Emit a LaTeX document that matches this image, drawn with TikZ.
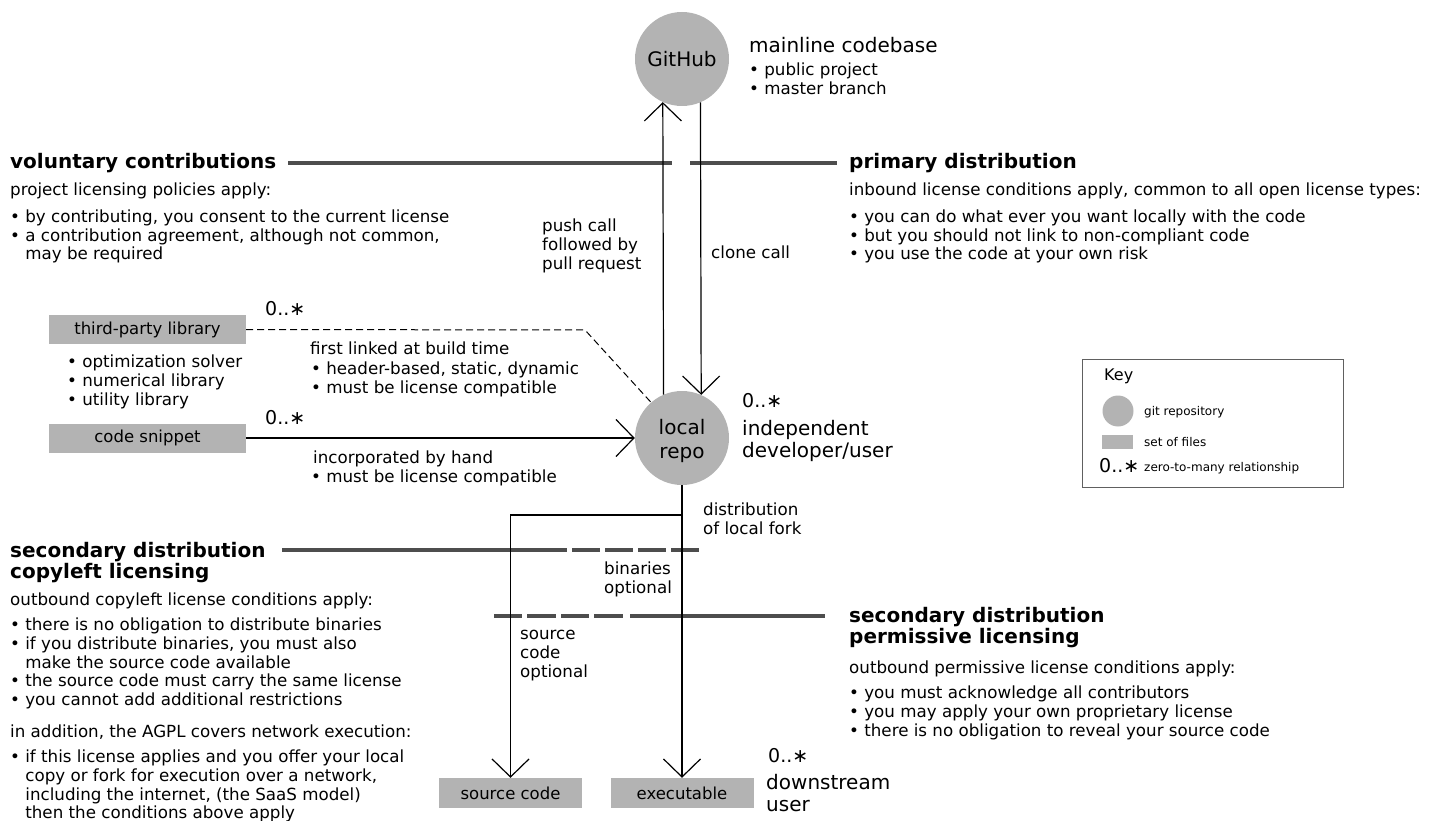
\documentclass[tikz,border=0pt]{standalone}
\usepackage{fontspec}
\setmainfont{DejaVu Sans}
\usetikzlibrary{arrows.meta}
\definecolor{fillgray}{HTML}{B3B3B3}
\definecolor{sepgray}{HTML}{4D4D4D}
\definecolor{keygray}{HTML}{606060}
\newcommand\fbody{\fontsize{16.7}{18.6}\selectfont}
\newcommand\fhead{\bfseries\fontsize{20}{20.8}\selectfont}
\newcommand\fbig{\fontsize{20}{22.8}\selectfont}
\newcommand\fmult{\fontsize{19}{21}\selectfont}
\newcommand\ffiles{\fontsize{16.5}{18}\selectfont}
\newcommand\fkey{\fontsize{12}{14}\selectfont}
\newcommand\blk[1]{\begin{tabular}[t]{@{}l@{}}#1\end{tabular}}
\newcommand\ind{\hphantom{•\ }}
\tikzset{
  repo/.style={circle, fill=fillgray, minimum size=94pt, inner sep=0pt, font=\fbig, align=center},
  files/.style={rectangle, fill=fillgray, minimum width=197pt, minimum height=29pt, inner sep=0pt, font=\ffiles},
  smallfiles/.style={files, minimum width=143pt, minimum height=30pt},
  txt/.style={anchor=base west, inner sep=0pt, font=\fbody, yshift=-1.8pt},
  head/.style={anchor=base west, inner sep=0pt, font=\fhead},
  big/.style={anchor=base west, inner sep=0pt, font=\fbig},
  mult/.style={anchor=base west, inner sep=0pt, font=\fmult},
  keytxt/.style={anchor=base west, inner sep=0pt, font=\fkey},
  arr/.style={line width=1.2pt, -{Straight Barb[length=18pt, width=37pt]}},
  link/.style={line width=1pt, dash pattern=on 7pt off 4pt},
  sep/.style={line width=4.5pt, draw=sepgray},
}
\begin{document}
\begin{tikzpicture}[x=1pt, y=-1pt]
\useasboundingbox (0,0) rectangle (1440,821);

% separators
\draw[sep] (288,163) -- (672,163);
\draw[sep] (690,163) -- (837,163);
\draw[sep, dash pattern=on 285pt off 5pt on 28pt off 5pt on 28pt off 5pt on 28pt off 5pt on 28pt off 5pt] (282,550) -- (701,550);
\draw[sep, dash pattern=on 28pt off 5pt on 29pt off 5pt on 28pt off 5pt on 29pt off 7pt on 300pt off 5pt] (494,616) -- (825,616);

% repositories
\node[repo] (gh) at (682,59) {GitHub};
\node[repo] (local) at (682,438) {};
\node[font=\fbig, align=center, inner sep=0pt] (locall) at (682,441) {local\\[0.3pt]repo};

% files
\node[files] (tp) at (147.5,329.5) {third-party library};
\node[files] (cs) at (147.5,438) {code snippet};
\node[smallfiles] (sc) at (510.5,793) {source code};
\node[smallfiles] (exe) at (682,793) {executable};

% connectors
\draw[arr] (local.113.8) -- (gh.246.2);
\draw[arr] (gh.293.8) -- (local.66.2);
\coordinate (bend) at (585,330);
\draw[link] (tp.east) -- (bend) -- (local.131.8);
\draw[arr] (cs.east) -- (local.west);
\draw[arr] (local.south) -- (exe.north);
\coordinate (fork) at (682,515);
\draw[arr] (fork) -| (sc.north);

% GitHub labels
\node[big] (mlc) at (749,53) {mainline codebase};
\node[txt] (mlb) at (749,74) {\blk{• public project\\• master branch}};

% voluntary contributions
\node[head] (vc) at (10,169) {voluntary contributions};
\node[txt] (vct) at (10,194) {project licensing policies apply:};
\node[txt] (vcb) at (10,221) {\blk{• by contributing, you consent to the current license\\• a contribution agreement, although not common,\\\ind may be required}};

% primary distribution
\node[head] (pd) at (849,169) {primary distribution};
\node[txt] (pdt) at (849,194) {inbound license conditions apply, common to all open license types:};
\node[txt] (pdb) at (849,221) {\blk{• you can do what ever you want locally with the code\\• but you should not link to non-compliant code\\• you use the code at your own risk}};

% push / clone labels
\node[txt] (pushl) at (542,230) {\blk{push call\\followed by\\pull request}};
\node[txt] (clonel) at (711,257) {clone call};

% third party and snippet labels
\node[mult] (m1) at (265,315) {0..∗};
\node[mult] (m2) at (265,424) {0..∗};
\node[txt] (tpb) at (67,366) {\blk{• optimization solver\\• numerical library\\• utility library}};
\node[txt] (fl) at (310,353) {first linked at build time};
\node[txt] (flb) at (311,373) {\blk{• header-based, static, dynamic\\• must be license compatible}};
\node[txt] (ih) at (313,462) {incorporated by hand};
\node[txt] (ihb) at (311,481) {• must be license compatible};

% local repo labels
\node[mult] (m3) at (742,407) {0..∗};
\node[big] (dev) at (742,435) {\blk{independent\\developer/user}};
\node[txt] (dlf) at (703,514) {\blk{distribution\\of local fork}};
\node[txt] (bo) at (604,573) {\blk{binaries\\optional}};
\node[txt] (sco) at (520,638) {\blk{source\\code\\optional}};

% copyleft
\node[head] (cl) at (10,557) {\blk{secondary distribution\\copyleft licensing}};
\node[txt] (clt) at (10,604) {outbound copyleft license conditions apply:};
\node[txt] (clb) at (10,629) {\blk{• there is no obligation to distribute binaries\\• if you distribute binaries, you must also\\\ind make the source code available\\• the source code must carry the same license\\• you cannot add additional restrictions}};
\node[txt] (agt) at (10,736) {in addition, the AGPL covers network execution:};
\node[txt] (agb) at (10,761) {\blk{• if this license applies and you offer your local\\\ind copy or fork for execution over a network,\\\ind including the internet, (the SaaS model)\\\ind then the conditions above apply}};

% permissive
\node[head] (pl) at (849,622) {\blk{secondary distribution\\permissive licensing}};
\node[txt] (plt) at (849,672) {outbound permissive license conditions apply:};
\node[txt] (plb) at (849,697) {\blk{• you must acknowledge all contributors\\• you may apply your own proprietary license\\• there is no obligation to reveal your source code}};

% downstream
\node[mult] (m4) at (768,762) {0..∗};
\node[big] (ds) at (766,789) {\blk{downstream\\user}};

% key
\node[draw=keygray, line width=1pt, minimum width=261pt, minimum height=128pt, inner sep=0pt, anchor=north west] (key) at (1082,359) {};
\node[anchor=base west, inner sep=0pt, font=\fontsize{16}{18}\selectfont] (keyt) at (1104,380) {Key};
\node[circle, fill=fillgray, minimum size=31pt, inner sep=0pt] (kc) at (1118,411) {};
\node[rectangle, fill=fillgray, minimum width=31pt, minimum height=14pt, inner sep=0pt] (kr) at (1117.5,442) {};
\node[keytxt] (kct) at (1144,415) {git repository};
\node[keytxt] (krt) at (1144,446) {set of files};
\node[mult] (km) at (1099,472) {0..∗};
\node[keytxt] (kmt) at (1144,471) {zero-to-many relationship};
\end{tikzpicture}
\end{document}
